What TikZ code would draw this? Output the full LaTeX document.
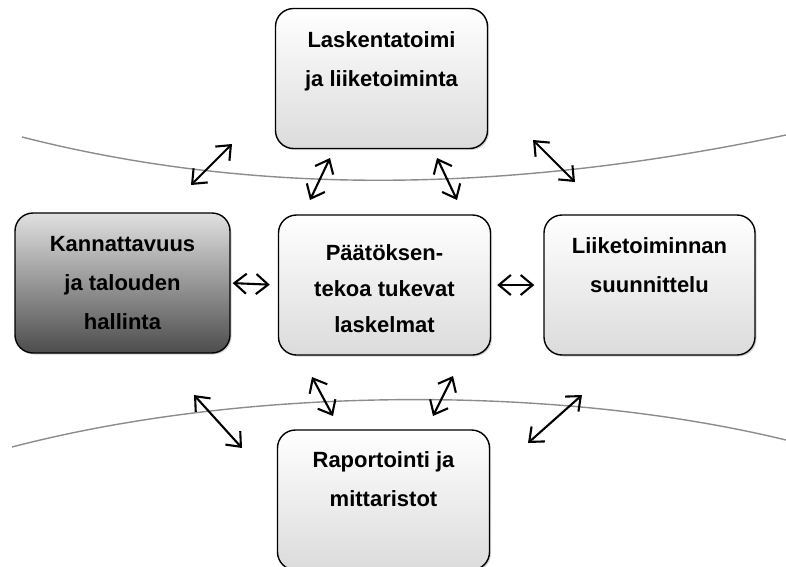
\documentclass[tikz,border=0pt]{standalone}
\usepackage{fontspec}
\setmainfont{Liberation Sans}
\usepackage{tikz}
\usetikzlibrary{calc}
\usetikzlibrary{positioning}
\usetikzlibrary{shadows}
\usetikzlibrary{arrows.meta}

\tikzset{
  box/.style={draw=black, line width=1.4pt, rounded corners=18pt,
    minimum width=212pt, minimum height=140pt,
    shading angle=45, top color=white, bottom color=black!14,
    drop shadow={shadow xshift=1.5pt, shadow yshift=-1.5pt, opacity=0.35}},
  darkbox/.style={box, top color=black!12, bottom color=black!70},
  txt/.style={anchor=base, align=center, font=\bfseries\fontsize{22}{39}\selectfont},
  biarrow/.style={line width=2.1pt, {Straight Barb[length=12pt,width=20pt]}-{Straight Barb[length=12pt,width=20pt]}},
  rim/.style={draw=black!45, line width=1.4pt}
}

\begin{document}
\begin{tikzpicture}[x=1pt,y=-1pt]
\useasboundingbox (0,0) rectangle (786,566);

% the two gray borders
\draw[rim] (22,137) .. controls (250,195) and (500,195) .. (786,135);
\draw[rim] (12,447) .. controls (250,385) and (560,385) .. (786,440);

% boxes
\node[box] (laskenta) at (381.5,78.5) {};
\node[box] (paatos) at (384.5,285) {};
\node[darkbox, minimum width=215pt] (kannattavuus) at (122.5,283) {};
\node[box, minimum width=211pt] (suunnittelu) at (649.5,285) {};
\node[box] (raportointi) at (383.5,500) {};

% texts (base is the last line)
\node[txt] at ([yshift=-79pt]laskenta.north) {Laskentatoimi\\ja liiketoiminta};
\node[txt, font=\bfseries\fontsize{22}{36}\selectfont] at ([yshift=-118pt]paatos.north) {Päätöksen-\\tekoa tukevat\\laskelmat};
\node[txt] at ([yshift=-117pt]kannattavuus.north) {Kannattavuus\\ja talouden\\hallinta};
\node[txt] at ([yshift=-78pt]suunnittelu.north) {Liiketoiminnan\\suunnittelu};
\node[txt] at ([yshift=-77pt]raportointi.north) {Raportointi ja\\mittaristot};

% arrows between the boxes
\draw[biarrow, shorten <=2pt, shorten >=8pt] (kannattavuus.east) -- (paatos.west);
\draw[biarrow, shorten <=6pt, shorten >=9pt] (paatos.east) -- (suunnittelu.west);

\foreach \a/\b in {{(191,185)}/{(232,144)}, {(310,200)}/{(330,158)},
                   {(437,158)}/{(457,200)}, {(533,140)}/{(575,182)},
                   {(194,395)}/{(242,448)}, {(312,377)}/{(333,416)},
                   {(453,376)}/{(433,416)}, {(582,395)}/{(528,443)}}
{
  \draw[biarrow] \a -- \b;
}
\end{tikzpicture}
\end{document}
